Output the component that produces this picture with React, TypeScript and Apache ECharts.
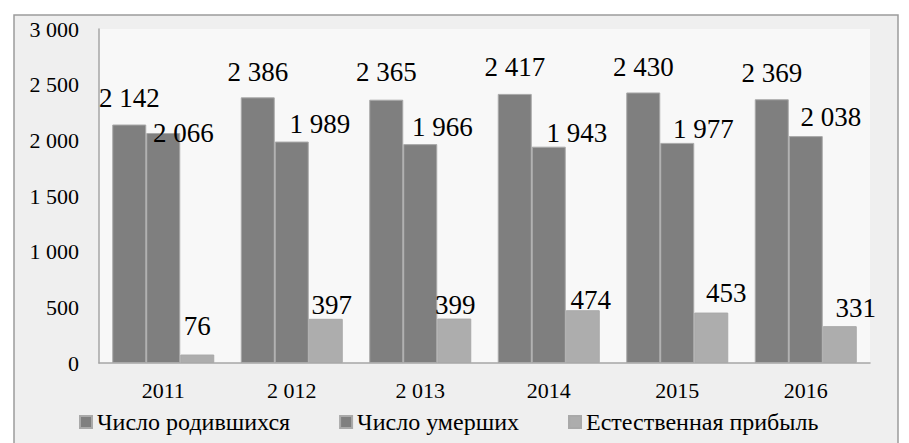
import React, { useEffect, useRef } from "react";
import * as echarts from "echarts";

const categories = ["2011", "2 012", "2 013", "2014", "2015", "2016"];
const seriesNames = ["Число родившихся", "Число умерших", "Естественная прибыль"];
const born = [2142, 2386, 2365, 2417, 2430, 2369];
const died = [2066, 1989, 1966, 1943, 1977, 2038];
const natural = [76, 397, 399, 474, 453, 331];
const yTicks = [0, 500, 1000, 1500, 2000, 2500, 3000];

// label offsets (dx, dy) imitating the manually placed labels of the original
const bornLabelOffsets = [[0, 0], [0, 1], [0, -1], [0, 0], [0, 1], [0, 0]];
const diedLabelOffsets = [[20, 27], [28, 9], [22, 9], [28, 13], [26, 13], [25, 7]];
const naturalLabelOffsets = [[0, -2], [6, 13], [1, 13], [8, 16], [15, 7], [16, 8]];

const fmt = (v: number) => {
  const s = String(Math.round(v));
  return s.replace(/\B(?=(\d{3})+(?!\d))/g, " ");
};

const FONT = "Liberation Serif";
const INK = "#000000";

export default function App() {
  const ref = useRef<HTMLDivElement>(null);
  useEffect(() => {
    if (!ref.current) return;
    const chart = echarts.init(ref.current, null, { renderer: "svg" });
    const mk = (
      name: string,
      values: number[],
      offsets: number[][],
      color: string
    ) => ({
      name,
      type: "bar",
      barWidth: 34,
      barGap: "0%",
      itemStyle: { color, borderColor: "#a9a9a9", borderWidth: 1 },
      label: {
        show: true,
        position: "top",
        distance: 13,
        fontFamily: FONT,
        fontSize: 27,
        color: INK,
        formatter: (p: any) => fmt(p.value),
      },
      data: values.map((v, i) => ({
        value: v,
        label: { offset: offsets[i] },
      })),
    });
    chart.setOption({
      animation: false,
      backgroundColor: "#ffffff",
      textStyle: { fontFamily: FONT },
      graphic: [
        {
          type: "rect",
          z: -10,
          shape: { x: 14, y: 15, width: 884, height: 450 },
          style: { fill: "#efefef", stroke: "#9c9c9c", lineWidth: 1.5 },
        },
      ],
      grid: {
        left: 99,
        right: 39,
        top: 29,
        bottom: 80,
        show: true,
        backgroundColor: "#f8f8f8",
        borderWidth: 0,
      },
      legend: {
        left: 74,
        top: 405,
        itemWidth: 12,
        itemHeight: 12,
        itemGap: 49,
        icon: "rect",
        textStyle: { fontFamily: FONT, fontSize: 24, color: INK },
        data: seriesNames,
      },
      xAxis: {
        type: "category",
        data: categories,
        axisLine: { show: true, lineStyle: { color: "#a6a6a6", width: 1.5 } },
        axisTick: { show: false },
        axisLabel: { fontFamily: FONT, fontSize: 22, color: INK, margin: 16 },
      },
      yAxis: {
        type: "value",
        min: yTicks[0],
        max: yTicks[yTicks.length - 1],
        interval: 500,
        splitLine: { show: false },
        axisLine: { show: true, lineStyle: { color: "#a6a6a6", width: 1.5 } },
        axisTick: { show: false },
        axisLabel: {
          fontFamily: FONT,
          fontSize: 22,
          color: INK,
          margin: 20,
          formatter: (v: number) => fmt(v),
        },
      },
      series: [
        mk(seriesNames[0], born, bornLabelOffsets, "#7f7f7f"),
        mk(seriesNames[1], died, diedLabelOffsets, "#7f7f7f"),
        mk(seriesNames[2], natural, naturalLabelOffsets, "#adadad"),
      ],
    });
    return () => chart.dispose();
  }, []);
  return (
    <>
      <style>{`#chart-root svg text, #chart-root svg tspan { font-family: 'Liberation Serif', 'Times New Roman', serif !important; }`}</style>
      <div
        id="chart-root"
        ref={ref}
        style={{ position: "fixed", left: 0, top: 0, width: 909, height: 443 }}
      />
    </>
  );
}
